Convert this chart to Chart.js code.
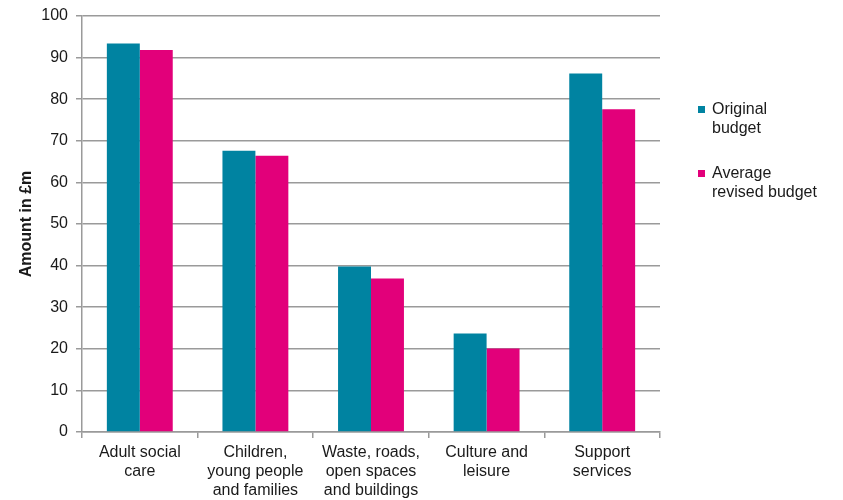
<!DOCTYPE html>
<html>
<head>
<meta charset="utf-8">
<script src="https://cdn.jsdelivr.net/npm/chart.js@4/dist/chart.umd.min.js"></script>
<style>
  html, body { margin: 0; padding: 0; background: #fff; }
  #wrap { width: 843px; height: 500px; position: relative; }
</style>
</head>
<body>
<div id="wrap"><canvas id="c" width="843" height="500"></canvas></div>
<script>
const categories = [
  ["Adult social", "care"],
  ["Children,", "young people", "and families"],
  ["Waste, roads,", "open spaces", "and buildings"],
  ["Culture and", "leisure"],
  ["Support", "services"]
];
const seriesNames = [["Original", "budget"], ["Average", "revised budget"]];
const originalBudget = [93.4, 67.6, 39.8, 23.7, 86.2];
const revisedBudget = [91.8, 66.4, 36.9, 20.1, 77.6];
const yTicks = [0, 10, 20, 30, 40, 50, 60, 70, 80, 90, 100];

const FONT = "'Liberation Sans', Arial, sans-serif";
const TEAL = '#0083A1';
const PINK = '#E2007A';
const GRID = '#9a9a9a';
const TEXT = '#1a1a1a';

const legendPlugin = {
  id: 'sideLegend',
  afterDraw(chart) {
    const ctx = chart.ctx;
    const area = chart.chartArea;
    ctx.save();
    ctx.font = '16px ' + FONT;
    ctx.fillStyle = TEXT;
    ctx.textBaseline = 'middle';
    const x0 = area.right + 38;
    const starts = [area.top + 94, area.top + 158];
    chart.data.datasets.forEach((ds, i) => {
      const y = starts[i];
      ctx.fillStyle = ds.backgroundColor;
      ctx.fillRect(x0, y - 4, 7, 7);
      ctx.fillStyle = TEXT;
      ds.legendLines.forEach((line, j) => {
        ctx.fillText(line, x0 + 14, y + j * 19);
      });
    });
    ctx.restore();
  }
};

new Chart(document.getElementById('c'), {
  type: 'bar',
  data: {
    labels: categories,
    datasets: [
      { label: seriesNames[0].join(' '), legendLines: seriesNames[0], data: originalBudget, backgroundColor: TEAL, borderWidth: 0 },
      { label: seriesNames[1].join(' '), legendLines: seriesNames[1], data: revisedBudget, backgroundColor: PINK, borderWidth: 0 }
    ]
  },
  plugins: [legendPlugin],
  options: {
    responsive: false,
    animation: false,
    devicePixelRatio: 1,
    layout: { padding: { left: 0, right: 183, top: 6, bottom: 0 } },
    plugins: { legend: { display: false }, tooltip: { enabled: false } },
    datasets: { bar: { categoryPercentage: 0.57, barPercentage: 1.0 } },
    scales: {
      x: {
        grid: { display: true, drawOnChartArea: false, offset: true, color: GRID, lineWidth: 1.5, tickLength: 6 },
        border: { display: true, color: GRID, width: 1.5 },
        ticks: { color: TEXT, font: { family: FONT, size: 16, lineHeight: 1.2 }, padding: 5, maxRotation: 0, autoSkip: false },
        afterFit(s) { s.height = 68; }
      },
      y: {
        min: 0, max: 100,
        afterBuildTicks(s) { s.ticks = yTicks.map(v => ({ value: v })); },
        grid: { color: GRID, lineWidth: 1.5, tickLength: 6 },
        border: { display: true, color: GRID, width: 1.5 },
        ticks: { color: TEXT, font: { family: FONT, size: 16, lineHeight: 1.0 }, padding: 8 },
        title: { display: true, text: 'Amount in £m', color: TEXT, font: { family: FONT, size: 16, weight: 'bold' }, padding: { top: 17, bottom: 0 } },
        afterFit(s) { s.width = 82; }
      }
    }
  }
});
</script>
</body>
</html>
